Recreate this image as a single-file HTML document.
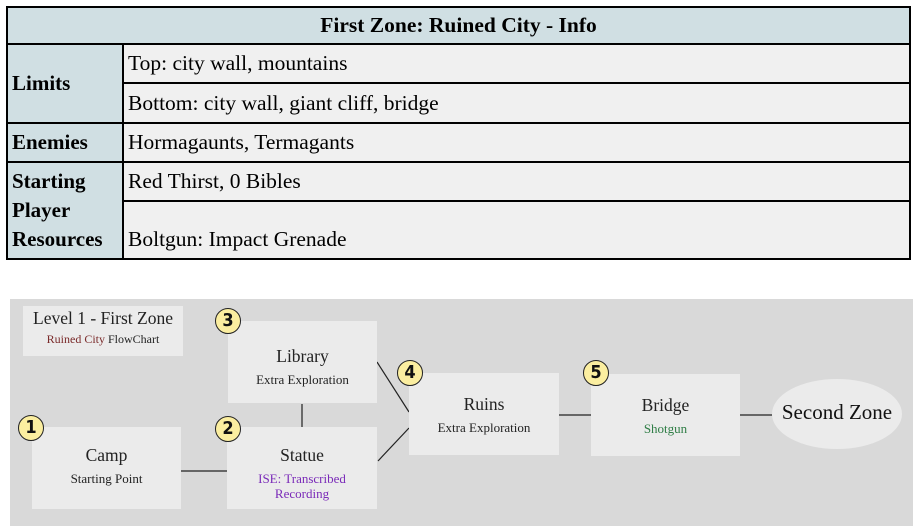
<!DOCTYPE html>
<html><head><style>
body{margin:0;width:919px;height:531px;background:#fff;position:relative;overflow:hidden;font-family:"Liberation Serif",serif}
table{position:absolute;left:6px;top:6px;width:905px;border-collapse:collapse;font-family:"Liberation Serif",serif}
td,th{border:2px solid #000;padding:0 4px;background:#f0f0f0;text-align:left;font-family:"Liberation Serif",serif;font-size:21.5px}
th{background:#d0dfe3;text-align:center;height:35px}
td.h{background:#d0dfe3;font-weight:bold;width:106px;line-height:29px;font-size:21px}
.d{position:absolute;left:10px;top:299px;width:903px;height:227px;background:#d9d9d9}
.b{position:absolute;background:#ebebeb;text-align:center;font-size:17.5px;color:#222;font-family:"Liberation Serif",serif}
.b .s{font-size:13px;margin-top:5px}
.c{position:absolute;width:24px;height:24px;border:1.5px solid #222;border-radius:50%;background:#fbeea0;font:bold 18px "DejaVu Sans Condensed","Liberation Sans",sans-serif;text-align:center;line-height:24px;color:#111}
</style></head><body>
<table>
<tr><th colspan="2">First Zone: Ruined City - Info</th></tr>
<tr style="height:39px"><td class="h" rowspan="2">Limits</td><td>Top: city wall, mountains</td></tr>
<tr style="height:40px"><td>Bottom: city wall, giant cliff, bridge</td></tr>
<tr style="height:39px"><td class="h">Enemies</td><td>Hormagaunts, Termagants</td></tr>
<tr style="height:39px"><td class="h" rowspan="2">Starting Player Resources</td><td>Red Thirst, 0 Bibles</td></tr>
<tr style="height:58px"><td style="vertical-align:bottom;padding-bottom:6px">Boltgun: Impact Grenade</td></tr>
</table>
<div class="d"></div>
<svg style="position:absolute;left:0;top:0" width="919" height="531">
<g stroke="#222" stroke-width="1.2">
<line x1="181" y1="471" x2="227" y2="471"/>
<line x1="302" y1="404" x2="302" y2="427"/>
<line x1="377" y1="362" x2="409" y2="412"/>
<line x1="378" y1="461" x2="409" y2="428"/>
<line x1="559" y1="415" x2="591" y2="415"/>
<line x1="740" y1="415" x2="772" y2="415"/>
</g>
<ellipse cx="837" cy="414" rx="65" ry="35" fill="#ebebeb"/>
</svg>
<div class="b" style="left:23px;top:306px;width:160px;height:50px"><div style="margin-top:2px">Level 1 - First Zone</div><div class="s" style="margin-top:3px;font-size:12px"><span style="color:#7a2a2a">Ruined City</span> FlowChart</div></div>
<div class="b" style="left:228px;top:321px;width:149px;height:82px"><div style="margin-top:25px">Library</div><div class="s">Extra Exploration</div></div>
<div class="b" style="left:32px;top:427px;width:149px;height:82px"><div style="margin-top:18px">Camp</div><div class="s">Starting Point</div></div>
<div class="b" style="left:227px;top:427px;width:150px;height:82px"><div style="margin-top:18px">Statue</div><div class="s" style="color:#7a2ab8;line-height:15px">ISE: Transcribed<br>Recording</div></div>
<div class="b" style="left:409px;top:373px;width:150px;height:82px"><div style="margin-top:21px">Ruins</div><div class="s">Extra Exploration</div></div>
<div class="b" style="left:591px;top:374px;width:149px;height:82px"><div style="margin-top:21px">Bridge</div><div class="s" style="color:#2e7d45">Shotgun</div></div>
<div style="position:absolute;left:772px;top:400px;width:130px;text-align:center;font-size:21px;color:#111">Second Zone</div>
<div class="c" style="left:18px;top:415px">1</div>
<div class="c" style="left:215px;top:416px">2</div>
<div class="c" style="left:215px;top:308px">3</div>
<div class="c" style="left:397px;top:360px">4</div>
<div class="c" style="left:583px;top:360px">5</div>
</body></html>
